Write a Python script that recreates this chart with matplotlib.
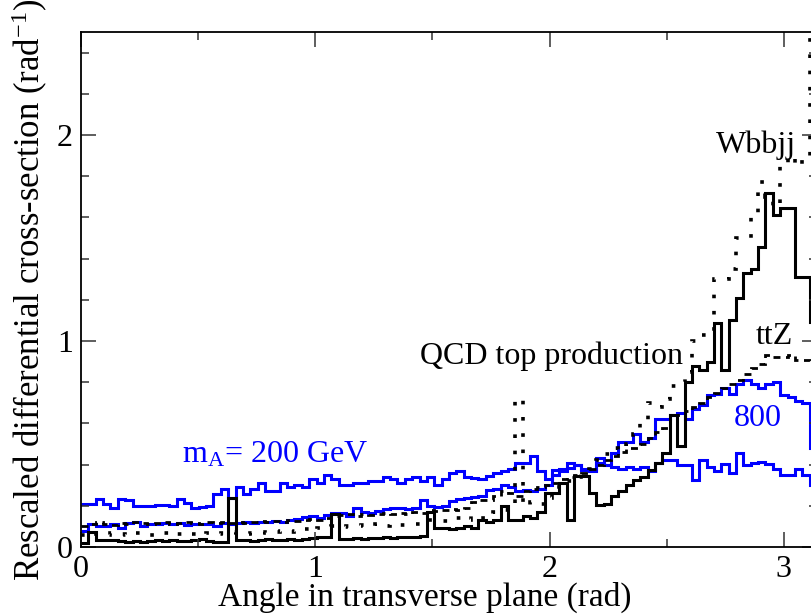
import numpy as np
import matplotlib
matplotlib.use("Agg")
import matplotlib.pyplot as plt
from matplotlib.ticker import MultipleLocator

plt.rcParams["font.family"] = ["Liberation Serif", "DejaVu Serif"]
plt.rcParams["mathtext.fontset"] = "custom"
plt.rcParams["mathtext.rm"] = "Liberation Serif"
plt.rcParams["mathtext.it"] = "Liberation Serif:italic"

# 100 bins over [0, pi]
n_bins = 100
edges = np.linspace(0.0, np.pi, n_bins + 1)

mA200 = [
    0.21, 0.21, 0.235, 0.21, 0.19, 0.235, 0.23, 0.20, 0.20, 0.20,
    0.205, 0.205, 0.20, 0.235, 0.215, 0.19, 0.195, 0.20, 0.255, 0.28,
    0.24, 0.29, 0.255, 0.28, 0.31, 0.27, 0.27, 0.31, 0.29, 0.30,
    0.29, 0.33, 0.31, 0.35, 0.33, 0.30, 0.30, 0.31, 0.31, 0.32,
    0.32, 0.34, 0.33, 0.31, 0.33, 0.34, 0.32, 0.34, 0.30, 0.33,
    0.36, 0.37, 0.34, 0.335, 0.33, 0.345, 0.36, 0.37, 0.38, 0.41,
    0.41, 0.44, 0.37, 0.33, 0.375, 0.38, 0.41, 0.40, 0.38, 0.375,
    0.41, 0.40, 0.39, 0.38, 0.39, 0.38, 0.39, 0.37, 0.41, 0.42,
    0.42, 0.40, 0.40, 0.325, 0.42, 0.39, 0.37, 0.405, 0.36, 0.455,
    0.40, 0.41, 0.415, 0.405, 0.38, 0.35, 0.35, 0.38, 0.35, 0.30,
]

mA800 = [
    0.08, 0.11, 0.10, 0.10, 0.11, 0.09, 0.115, 0.12, 0.10, 0.11,
    0.11, 0.115, 0.11, 0.115, 0.105, 0.11, 0.11, 0.11, 0.10, 0.115,
    0.11, 0.115, 0.12, 0.115, 0.12, 0.12, 0.125, 0.12, 0.13, 0.135,
    0.145, 0.15, 0.14, 0.155, 0.165, 0.165, 0.15, 0.19, 0.17, 0.165,
    0.175, 0.185, 0.19, 0.19, 0.185, 0.19, 0.23, 0.20, 0.195, 0.20,
    0.225, 0.235, 0.24, 0.245, 0.25, 0.275, 0.28, 0.30, 0.29, 0.27,
    0.275, 0.27, 0.28, 0.30, 0.35, 0.37, 0.385, 0.40, 0.375, 0.37,
    0.43, 0.40, 0.455, 0.51, 0.51, 0.55, 0.51, 0.53, 0.62, 0.62,
    0.64, 0.65, 0.62, 0.67, 0.69, 0.74, 0.745, 0.77, 0.745, 0.79,
    0.81, 0.79, 0.77, 0.79, 0.80, 0.74, 0.73, 0.71, 0.70, 0.48,
]

qcd_top = [
    0.02, 0.075, 0.035, 0.035, 0.035, 0.03, 0.025, 0.03, 0.025, 0.03,
    0.035, 0.03, 0.035, 0.03, 0.03, 0.035, 0.04, 0.03, 0.025, 0.025,
    0.24, 0.035, 0.035, 0.03, 0.035, 0.04, 0.035, 0.035, 0.04, 0.035,
    0.04, 0.045, 0.05, 0.05, 0.16, 0.04, 0.04, 0.045, 0.04, 0.045,
    0.045, 0.05, 0.045, 0.05, 0.05, 0.05, 0.055, 0.17, 0.09, 0.09,
    0.085, 0.09, 0.10, 0.09, 0.13, 0.12, 0.13, 0.20, 0.13, 0.13,
    0.15, 0.14, 0.17, 0.26, 0.26, 0.31, 0.13, 0.345, 0.345, 0.26,
    0.205, 0.21, 0.25, 0.27, 0.30, 0.325, 0.34, 0.375, 0.41, 0.455,
    0.64, 0.49, 0.80, 0.88, 0.86, 0.90, 1.087, 0.86, 1.10, 1.21,
    1.33, 1.35, 1.456, 1.72, 1.61, 1.645, 1.645, 1.31, 1.31, 1.09,
]

wbbjj = [
    0.06, 0.07, 0.065, 0.06, 0.07, 0.065, 0.06, 0.07, 0.065, 0.06,
    0.065, 0.07, 0.06, 0.065, 0.07, 0.065, 0.06, 0.07, 0.065, 0.07,
    0.075, 0.07, 0.065, 0.07, 0.075, 0.07, 0.075, 0.08, 0.075, 0.08,
    0.085, 0.08, 0.09, 0.09, 0.10, 0.095, 0.10, 0.10, 0.105, 0.10,
    0.11, 0.10, 0.11, 0.105, 0.11, 0.11, 0.115, 0.13, 0.13, 0.125,
    0.13, 0.14, 0.13, 0.15, 0.14, 0.16, 0.17, 0.18, 0.19, 0.72,
    0.20, 0.22, 0.21, 0.24, 0.28, 0.30, 0.32, 0.34, 0.36, 0.38,
    0.42, 0.45, 0.48, 0.47, 0.50, 0.55, 0.60, 0.70, 0.68, 0.72,
    0.78, 0.80, 0.85, 1.00, 1.03, 1.05, 1.30, 1.30, 1.35, 1.50,
    1.50, 1.61, 1.77, 1.70, 1.65, 1.85, 1.90, 1.85, 1.90, 2.60,
]

ttz = [
    0.10, 0.11, 0.12, 0.11, 0.105, 0.115, 0.11, 0.12, 0.115, 0.11,
    0.115, 0.12, 0.11, 0.115, 0.12, 0.115, 0.11, 0.12, 0.115, 0.12,
    0.115, 0.12, 0.115, 0.12, 0.125, 0.12, 0.125, 0.12, 0.13, 0.125,
    0.13, 0.135, 0.13, 0.14, 0.15, 0.155, 0.16, 0.15, 0.16, 0.155,
    0.16, 0.165, 0.16, 0.165, 0.16, 0.17, 0.165, 0.18, 0.175, 0.18,
    0.185, 0.18, 0.19, 0.22, 0.23, 0.23, 0.25, 0.27, 0.26, 0.25,
    0.27, 0.28, 0.29, 0.30, 0.31, 0.33, 0.34, 0.35, 0.36, 0.38,
    0.40, 0.42, 0.44, 0.46, 0.48, 0.48, 0.50, 0.53, 0.56, 0.58,
    0.62, 0.64, 0.66, 0.68, 0.70, 0.73, 0.75, 0.77, 0.79, 0.81,
    0.84, 0.87, 0.89, 0.93, 0.92, 0.92, 0.93, 0.91, 0.91, 0.90,
]

fig = plt.figure(figsize=(8.12, 6.15), dpi=100)
ax = fig.add_axes([81 / 812, 1 - 547 / 615, (817 - 81) / 812, (547 - 32) / 615])

blue = "#0000ff"
ax.stairs(mA200, edges, color=blue, lw=2.2, baseline=None)
ax.stairs(mA800, edges, color=blue, lw=2.2, baseline=None)
ax.stairs(ttz, edges, color="black", lw=2.0, ls=(0, (2.5, 2.0)), baseline=None)
ax.stairs(wbbjj, edges, color="black", lw=2.6, ls=(0, (1.0, 3.5)), baseline=None)
ax.stairs(qcd_top, edges, color="black", lw=2.2, baseline=None)

ax.set_xlim(0, np.pi)
ax.set_ylim(0, 2.5)
ax.xaxis.set_major_locator(MultipleLocator(1))
ax.xaxis.set_minor_locator(MultipleLocator(0.5))
ax.yaxis.set_major_locator(MultipleLocator(1))
ax.yaxis.set_minor_locator(MultipleLocator(0.2))
ax.tick_params(which="both", direction="in", top=True, right=True,
               labelsize=23, width=1.1, color="#333333")
ax.tick_params(which="major", length=11, pad=6)
ax.tick_params(which="minor", length=6)
for s in ax.spines.values():
    s.set_linewidth(1.3)

ax.set_xlabel("Angle in transverse plane (rad)", fontsize=24, va="baseline")
ax.xaxis.set_label_coords((425 - 81) / 736, (547 - 606) / 515)
ax.set_ylabel(r"Rescaled differential cross-section (rad$^{-1}$)", fontsize=25)
ax.yaxis.set_label_coords((50 - 81) / 736, (547 - 290) / 515)

ax.text(2.88, 1.95, "Wbbjj", fontsize=23, ha="center", va="center")
ax.text(2.96, 1.02, "ttZ", fontsize=23, ha="center", va="center")
ax.text(2.57, 0.89, "QCD top production", fontsize=23, ha="right", va="baseline")
ax.text(2.89, 0.625, "800", fontsize=23, ha="center", va="center", color=blue)
ax.text(0.433, 0.41, r"m$_\mathrm{A}$= 200 GeV", fontsize=23, ha="left",
        va="baseline", color=blue)

fig.savefig("out.png", dpi=100)
